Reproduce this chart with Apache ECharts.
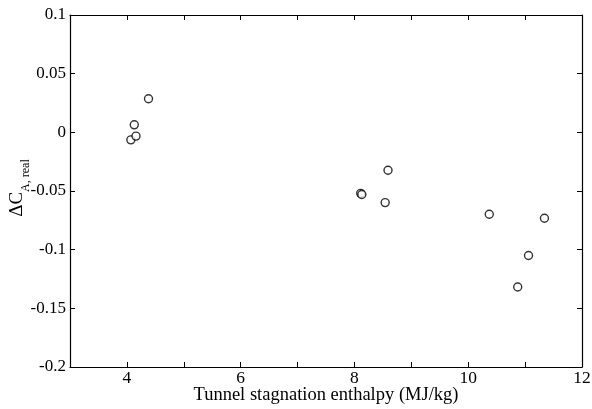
<!DOCTYPE html>
<html>
<head>
<meta charset="utf-8">
<script src="https://cdn.jsdelivr.net/npm/echarts@6/dist/echarts.min.js"></script>
<style>
  html, body { margin: 0; padding: 0; background: #fff; }
  #main { width: 592px; height: 409px; }
</style>
</head>
<body>
<div id="main"></div>
<script>
// 数据：隧道滞止焓 (MJ/kg) 与 ΔC_A,real
var enthalpy = [4.07, 4.13, 4.16, 4.38, 8.11, 8.13, 8.54, 8.59, 10.37, 10.87, 11.06, 11.34];
var deltaCA = [-0.0064, 0.0064, -0.0032, 0.0286, -0.0520, -0.0530, -0.0599, -0.0323, -0.0698, -0.1318, -0.105, -0.0732];

var xTicks = [4, 6, 8, 10, 12];
var yTicks = [0.1, 0.05, 0, -0.05, -0.1, -0.15, -0.2];

var chartDom = document.getElementById('main');
var myChart = echarts.init(chartDom);
var serif = 'Liberation Serif';

var points = enthalpy.map(function (x, i) {
    return [x, deltaCA[i]];
});

function yLabel(v) {
    var r = Math.round(v * 100) / 100;
    // 只显示整齐的刻度
    for (var i = 0; i < yTicks.length; i++) {
        if (Math.abs(yTicks[i] - r) < 1e-9) return String(yTicks[i]);
    }
    return '';
}

var axisLine = { show: true, onZero: false, lineStyle: { color: '#000', width: 1.2 } };
var axisTick = { show: true, inside: true, length: 5, lineStyle: { color: '#000', width: 1 } };

var option = {
    animation: false,
    backgroundColor: '#fff',
    grid: { left: 70, right: 10, top: 15, bottom: 42, containLabel: false, outerBoundsMode: 'none' },
    xAxis: [
        {
            type: 'value',
            min: 3,
            max: 12,
            interval: 1,
            position: 'bottom',
            axisLine: axisLine,
            axisTick: axisTick,
            splitLine: { show: false },
            axisLabel: {
                color: '#000',
                fontFamily: serif,
                fontSize: 17.5,
                margin: 2,
                formatter: function (v) {
                    return xTicks.indexOf(v) >= 0 ? String(v) : '';
                }
            },
            name: 'Tunnel stagnation enthalpy (MJ/kg)',
            nameLocation: 'middle',
            nameMoveOverlap: false,
            nameGap: 19,
            nameTextStyle: { color: '#000', fontFamily: serif, fontSize: 18.5, verticalAlign: 'top' }
        },
        {
            type: 'value',
            min: 3,
            max: 12,
            interval: 1,
            position: 'top',
            axisLine: axisLine,
            axisTick: axisTick,
            axisLabel: { show: false },
            splitLine: { show: false }
        }
    ],
    yAxis: [
        {
            type: 'value',
            min: -0.2,
            max: 0.1,
            interval: 0.05,
            position: 'left',
            axisLine: axisLine,
            axisTick: axisTick,
            splitLine: { show: false },
            axisLabel: {
                color: '#000',
                fontFamily: serif,
                fontSize: 17,
                margin: 4,
                formatter: yLabel
            },
            name: '{a|ΔC}{b|A, real}',
            nameLocation: 'middle',
            nameRotate: 90,
            nameMoveOverlap: false,
            nameGap: 54,
            nameTextStyle: {
                color: '#000',
                align: 'center',
                verticalAlign: 'middle',
                padding: [0, 0, 0, 6],
                rich: {
                    a: { fontFamily: serif, fontSize: 19, color: '#000', lineHeight: 22, verticalAlign: 'bottom' },
                    b: { fontFamily: serif, fontSize: 12, color: '#000', lineHeight: 22, verticalAlign: 'bottom', padding: [0, 0, -5, 0] }
                }
            }
        },
        {
            type: 'value',
            min: -0.2,
            max: 0.1,
            interval: 0.05,
            position: 'right',
            axisLine: axisLine,
            axisTick: axisTick,
            axisLabel: { show: false },
            splitLine: { show: false }
        }
    ],
    series: [
        {
            type: 'scatter',
            data: points,
            symbol: 'circle',
            symbolSize: 8,
            itemStyle: { color: '#fff', borderColor: '#000', borderWidth: 1.4 }
        }
    ]
};

option && myChart.setOption(option);
</script>
</body>
</html>
